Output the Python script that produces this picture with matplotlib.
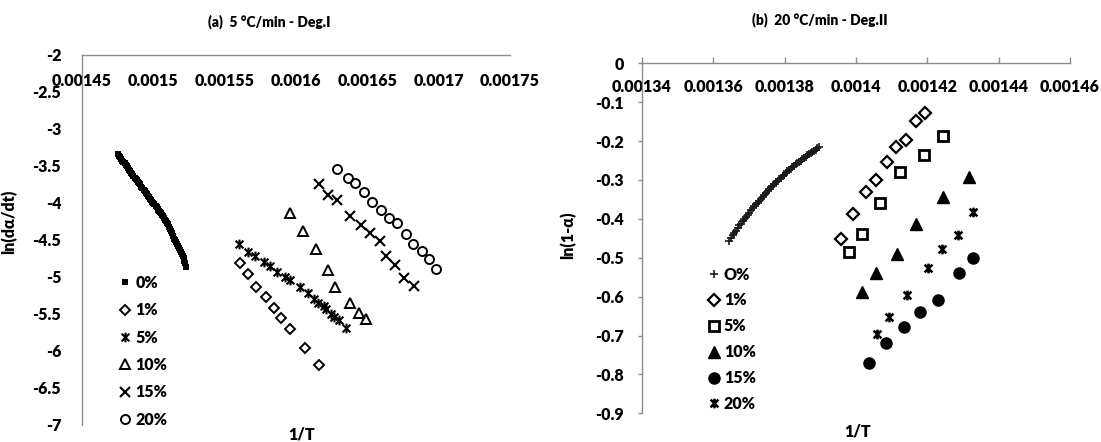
import matplotlib
matplotlib.use("Agg")
import matplotlib.pyplot as plt
from matplotlib.path import Path

plt.rcParams['font.family'] = 'Lato'
plt.rcParams['font.weight'] = 'heavy'

# ---------------- (a) 5 C/min - Deg.I ----------------
a_x0 = [0.0014754, 0.0014760, 0.0014768, 0.0014775, 0.0014783, 0.0014790, 0.0014798, 0.0014806,
        0.0014813, 0.0014821, 0.0014829, 0.0014836, 0.0014845, 0.0014852, 0.0014860, 0.0014868,
        0.0014876, 0.0014884, 0.0014892, 0.0014900, 0.0014907, 0.0014915, 0.0014923, 0.0014931,
        0.0014939, 0.0014946, 0.0014953, 0.0014961, 0.0014969, 0.0014977, 0.0014985, 0.0014993,
        0.0015000, 0.0015008, 0.0015016, 0.0015024, 0.0015030, 0.0015036, 0.0015042, 0.0015048,
        0.0015055, 0.0015062, 0.0015070, 0.0015077, 0.0015084, 0.0015091, 0.0015098, 0.0015105,
        0.0015112, 0.0015119, 0.0015126, 0.0015133, 0.0015140, 0.0015147, 0.0015154, 0.0015161,
        0.0015168, 0.0015175, 0.0015181, 0.0015187, 0.0015193, 0.0015199, 0.0015206, 0.0015212,
        0.0015218, 0.0015224, 0.0015229]
a_y0 = [-3.34, -3.37, -3.38, -3.41, -3.43, -3.44, -3.46, -3.49,
        -3.50, -3.53, -3.55, -3.57, -3.60, -3.61, -3.64, -3.66,
        -3.68, -3.69, -3.72, -3.73, -3.75, -3.78, -3.80, -3.82,
        -3.84, -3.86, -3.88, -3.90, -3.92, -3.94, -3.96, -3.98,
        -4.00, -4.02, -4.04, -4.06, -4.08, -4.09, -4.11, -4.12,
        -4.14, -4.16, -4.18, -4.20, -4.23, -4.25, -4.27, -4.29,
        -4.32, -4.35, -4.38, -4.41, -4.45, -4.48, -4.50, -4.53,
        -4.56, -4.58, -4.61, -4.64, -4.66, -4.69, -4.72, -4.75,
        -4.78, -4.81, -4.87]
a_x1 = [0.0015610, 0.0015666, 0.0015720, 0.0015787, 0.0015844, 0.0015893, 0.0015961, 0.0016065, 0.0016158]
a_y1 = [-4.805, -4.964, -5.130, -5.270, -5.414, -5.549, -5.697, -5.954, -6.193]
a_x5 = [0.0015597, 0.0015666, 0.0015716, 0.0015773, 0.0015818, 0.0015869, 0.0015921, 0.0015956, 0.0016028,
        0.0016082, 0.0016127, 0.0016156, 0.0016193, 0.0016212, 0.0016242, 0.0016266, 0.0016299, 0.0016348]
a_y5 = [-4.558, -4.666, -4.714, -4.797, -4.846, -4.930, -4.997, -5.047, -5.136,
        -5.220, -5.301, -5.346, -5.386, -5.436, -5.495, -5.535, -5.585, -5.684]
a_x10 = [0.0015959, 0.0016052, 0.0016138, 0.0016223, 0.0016273, 0.0016379, 0.0016439, 0.0016491]
a_y10 = [-4.130, -4.378, -4.616, -4.907, -5.136, -5.358, -5.481, -5.562]
a_x15 = [0.0016161, 0.0016226, 0.0016285, 0.0016378, 0.0016457, 0.0016519, 0.0016589, 0.0016629,
         0.0016692, 0.0016759, 0.0016827]
a_y15 = [-3.743, -3.886, -3.961, -4.176, -4.295, -4.409, -4.514, -4.711, -4.842, -5.015, -5.128]
a_x20 = [0.0016285, 0.0016362, 0.0016411, 0.0016474, 0.0016531, 0.0016594, 0.0016652, 0.0016709,
         0.0016771, 0.0016821, 0.0016884, 0.0016931, 0.0016982]
a_y20 = [-3.541, -3.657, -3.736, -3.855, -3.984, -4.091, -4.197, -4.270, -4.423, -4.551, -4.649, -4.751, -4.896]

a_xticks = [0.00145, 0.0015, 0.00155, 0.0016, 0.00165, 0.0017, 0.00175]
a_xlabels = ["0.00145", "0.0015", "0.00155", "0.0016", "0.00165", "0.0017", "0.00175"]
a_yticks = [-2, -2.5, -3, -3.5, -4, -4.5, -5, -5.5, -6, -6.5, -7]
a_ylabels = ["-2", "-2.5", "-3", "-3.5", "-4", "-4.5", "-5", "-5.5", "-6", "-6.5", "-7"]

# ---------------- (b) 20 C/min - Deg.II ----------------
b_x0 = [0.0013644, 0.0013649, 0.0013654, 0.0013659, 0.0013663, 0.0013668, 0.0013673, 0.0013677,
        0.0013682, 0.0013687, 0.0013691, 0.0013696, 0.0013701, 0.0013705, 0.0013710, 0.0013715,
        0.0013719, 0.0013724, 0.0013729, 0.0013733, 0.0013738, 0.0013743, 0.0013747, 0.0013752,
        0.0013757, 0.0013761, 0.0013766, 0.0013771, 0.0013775, 0.0013780, 0.0013785, 0.0013789,
        0.0013794, 0.0013799, 0.0013803, 0.0013808, 0.0013813, 0.0013817, 0.0013822, 0.0013827,
        0.0013831, 0.0013836, 0.0013841, 0.0013845, 0.0013850, 0.0013855, 0.0013859, 0.0013864,
        0.0013869, 0.0013873, 0.0013878, 0.0013883, 0.0013887, 0.0013892, 0.0013896]
b_y0 = [-0.456, -0.449, -0.442, -0.436, -0.430, -0.423, -0.417, -0.412,
        -0.406, -0.400, -0.395, -0.389, -0.384, -0.378, -0.373, -0.368,
        -0.363, -0.358, -0.353, -0.348, -0.343, -0.338, -0.333, -0.328,
        -0.324, -0.319, -0.315, -0.310, -0.306, -0.302, -0.298, -0.294,
        -0.290, -0.286, -0.282, -0.278, -0.275, -0.271, -0.267, -0.264,
        -0.260, -0.257, -0.253, -0.250, -0.246, -0.243, -0.240, -0.237,
        -0.234, -0.231, -0.228, -0.225, -0.222, -0.219, -0.216]
b_x1 = [0.0013957, 0.0013992, 0.0014028, 0.0014056, 0.0014086, 0.0014112, 0.0014140, 0.0014168, 0.0014193]
b_y1 = [-0.452, -0.387, -0.330, -0.300, -0.253, -0.214, -0.197, -0.148, -0.129]
b_x5 = [0.0013981, 0.0014016, 0.0014067, 0.0014123, 0.0014191, 0.0014245]
b_y5 = [-0.486, -0.439, -0.360, -0.280, -0.236, -0.187]
b_x10 = [0.0014016, 0.0014055, 0.0014116, 0.0014168, 0.0014245, 0.0014317]
b_y10 = [-0.587, -0.538, -0.490, -0.413, -0.343, -0.293]
b_x15 = [0.0014037, 0.0014084, 0.0014135, 0.0014179, 0.0014231, 0.0014289, 0.0014329]
b_y15 = [-0.770, -0.718, -0.679, -0.640, -0.609, -0.540, -0.501]
b_x20 = [0.0014058, 0.0014093, 0.0014142, 0.0014201, 0.0014240, 0.0014287, 0.0014329]
b_y20 = [-0.696, -0.653, -0.596, -0.527, -0.477, -0.441, -0.382]

b_xticks = [0.00134, 0.00136, 0.00138, 0.0014, 0.00142, 0.00144, 0.00146]
b_xlabels = ["0.00134", "0.00136", "0.00138", "0.0014", "0.00142", "0.00144", "0.00146"]
b_yticks = [0, -0.1, -0.2, -0.3, -0.4, -0.5, -0.6, -0.7, -0.8, -0.9]
b_ylabels = ["0", "-0.1", "-0.2", "-0.3", "-0.4", "-0.5", "-0.6", "-0.7", "-0.8", "-0.9"]

# Excel style star: an X with a vertical bar through it
star = Path([(-1, -1), (1, 1), (-1, 1), (1, -1), (0, -1.25), (0, 1.25)],
            [Path.MOVETO, Path.LINETO, Path.MOVETO, Path.LINETO, Path.MOVETO, Path.LINETO])

axis_grey = '#8c8c8c'
fs = 11.5
fw = 'heavy'

fig = plt.figure(figsize=(11.01, 4.42), dpi=100)
ax1 = fig.add_axes([0.0745, 0.0385, 0.3887, 0.8371])
ax2 = fig.add_axes([0.5831, 0.0649, 0.3887, 0.7919])


def style_axes(ax):
    for side in ['right', 'bottom']:
        ax.spines[side].set_visible(False)
    for side in ['left', 'top']:
        ax.spines[side].set_color(axis_grey)
        ax.spines[side].set_linewidth(1.0)
    ax.xaxis.set_ticks_position('top')


# panel (a)
ax1.plot(a_x0, a_y0, ls='none', marker='s', ms=4.2, color='black', mew=0, label='0%')
ax1.plot(a_x1, a_y1, ls='none', marker='D', ms=5, mfc='none', mec='black', mew=1.4, label='1%')
ax1.plot(a_x5, a_y5, ls='none', marker=star, ms=7, mfc='none', mec='black', mew=1.5, label='5%')
ax1.plot(a_x10, a_y10, ls='none', marker='^', ms=7, mfc='none', mec='black', mew=1.4, label='10%')
ax1.plot(a_x15, a_y15, ls='none', marker='x', ms=6.5, mec='black', mew=1.5, label='15%')
ax1.plot(a_x20, a_y20, ls='none', marker='o', ms=6.5, mfc='none', mec='black', mew=1.4, label='20%')

ax1.set_xlim(0.00145, 0.00175)
ax1.set_ylim(-7, -2)
ax1.set_xticks(a_xticks)
ax1.set_xticklabels(a_xlabels, fontsize=fs, fontweight=fw)
ax1.set_yticks(a_yticks)
ax1.set_yticklabels(a_ylabels, fontsize=fs, fontweight=fw)
style_axes(ax1)
ax1.tick_params(axis='x', length=0, pad=-24.5, labeltop=True, labelbottom=False)
ax1.tick_params(axis='y', length=0, pad=15)
ax1.set_xlabel('1/T', fontsize=fs, fontweight=fw)
ax1.xaxis.set_label_coords(0.514, -0.005)
ax1.set_ylabel('ln(dα/dt)', fontsize=fs, fontweight=fw)
ax1.yaxis.set_label_coords(-0.151, 0.55)
ax1.legend(loc='upper left', bbox_to_anchor=(0.109, 0.378), bbox_transform=fig.transFigure,
           frameon=False, handlelength=0.6, handletextpad=0.35,
           labelspacing=0.71, borderpad=0, borderaxespad=0, numpoints=1,
           prop={'weight': fw, 'size': fs})
fig.text(0.245, 1 - 21.7 / 442, '(a)  5 °C/min - Deg.I', ha='center', va='center',
         fontsize=10, fontweight=fw)

# panel (b)
ax2.plot(b_x0, b_y0, ls='none', marker='+', ms=6, color='#1a1a1a', mew=1.2, label='O%')
ax2.plot(b_x1, b_y1, ls='none', marker='D', ms=6, mfc='none', mec='black', mew=1.6, label='1%')
ax2.plot(b_x5, b_y5, ls='none', marker='s', ms=7, mfc='none', mec='black', mew=2.0, label='5%')
ax2.plot(b_x10, b_y10, ls='none', marker='^', ms=8, color='black', label='10%')
ax2.plot(b_x15, b_y15, ls='none', marker='o', ms=8, color='black', label='15%')
ax2.plot(b_x20, b_y20, ls='none', marker=star, ms=7, mfc='none', mec='black', mew=1.8, label='20%')

ax2.set_xlim(0.00134, 0.00146)
ax2.set_ylim(-0.9, 0)
ax2.set_xticks(b_xticks)
ax2.set_xticklabels(b_xlabels, fontsize=fs, fontweight=fw)
ax2.set_yticks(b_yticks)
ax2.set_yticklabels(b_ylabels, fontsize=fs, fontweight=fw)
style_axes(ax2)
ax2.tick_params(axis='x', direction='out', length=4, width=1, color=axis_grey, pad=-26.5,
                labeltop=True, labelbottom=False)
ax2.tick_params(axis='y', direction='out', length=3, width=1, color=axis_grey, pad=10)
ax2.set_xlabel('1/T', fontsize=fs, fontweight=fw)
ax2.xaxis.set_label_coords(0.503, -0.03)
ax2.set_ylabel('ln(1-α)', fontsize=fs, fontweight=fw)
ax2.yaxis.set_label_coords(-0.154, 0.51)
ax2.legend(loc='upper left', bbox_to_anchor=(0.6443, 0.397), bbox_transform=fig.transFigure,
           frameon=False, handlelength=0.6, handletextpad=0.3,
           labelspacing=0.62, borderpad=0, borderaxespad=0, numpoints=1,
           prop={'weight': fw, 'size': fs})
fig.text(0.745, 1 - 20 / 442, '(b)  20 °C/min - Deg.II', ha='center', va='center',
         fontsize=10, fontweight=fw)

fig.savefig('out.png', dpi=100)
